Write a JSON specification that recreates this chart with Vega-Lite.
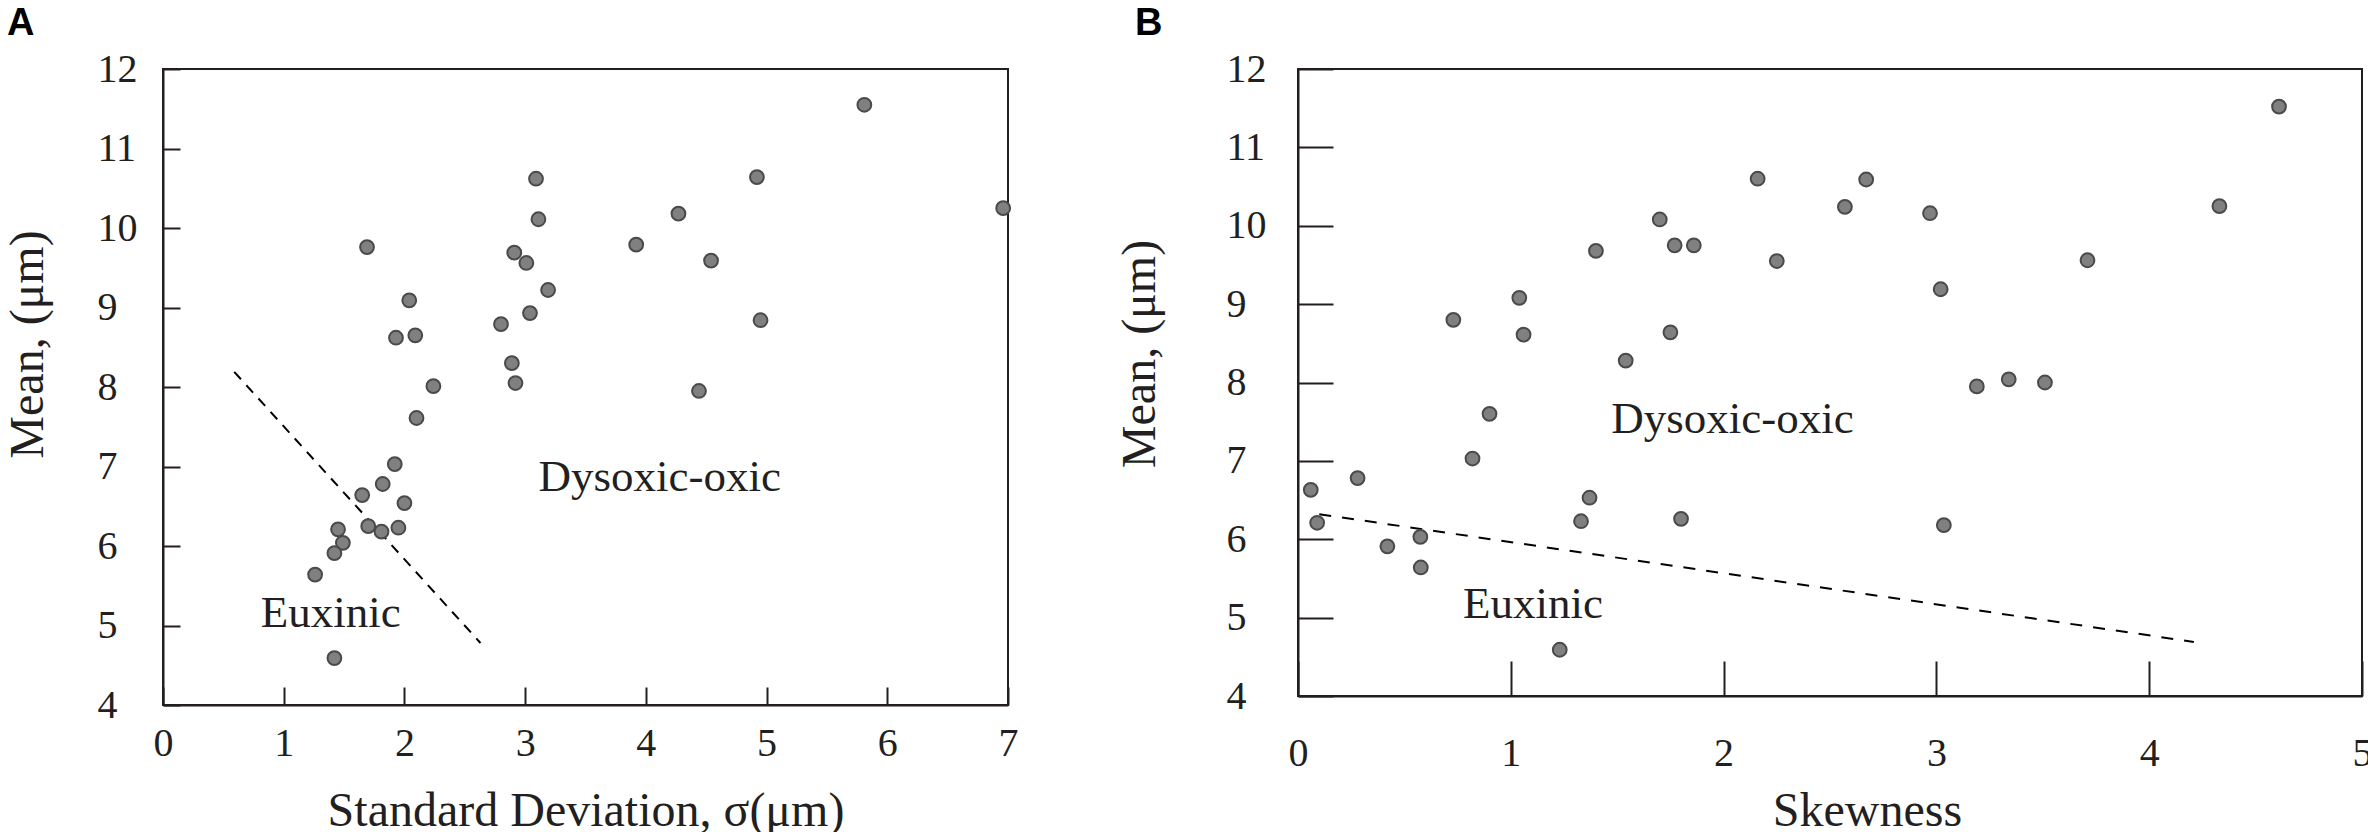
{
  "$schema": "https://vega.github.io/schema/vega-lite/v6.json",
  "background": "white",
  "padding": {"left": 2, "top": 4, "right": 0, "bottom": 0},
  "config": {
    "font": "Liberation Serif",
    "view": {"stroke": "#231f20", "strokeWidth": 2},
    "axis": {
      "grid": false,
      "domainColor": "#231f20",
      "domainWidth": 2,
      "tickColor": "#231f20",
      "tickWidth": 2,
      "labelFont": "Liberation Serif",
      "labelFontSize": 40,
      "labelColor": "#231f20",
      "labelFlush": false,
      "labelOverlap": false,
      "labelBound": false,
      "format": "d",
      "titleFont": "Liberation Serif",
      "titleFontSize": 48,
      "titleFontWeight": "normal",
      "titleColor": "#231f20",
      "titleBaseline": "alphabetic",
      "titleAlign": "center"
    },
    "title": {"font": "Liberation Sans", "fontWeight": "bold", "fontSize": 38, "color": "#000000", "anchor": "start", "frame": "bounds", "baseline": "alphabetic", "offset": 6}
  },
  "datasets": {
    "sdMean": [
      {"sd": 1.69, "mean": 9.76}, {"sd": 2.04, "mean": 9.09}, {"sd": 1.93, "mean": 8.62},
      {"sd": 2.09, "mean": 8.65}, {"sd": 2.24, "mean": 8.01}, {"sd": 2.10, "mean": 7.61},
      {"sd": 1.92, "mean": 7.03}, {"sd": 1.82, "mean": 6.78}, {"sd": 1.65, "mean": 6.64},
      {"sd": 2.00, "mean": 6.54}, {"sd": 3.09, "mean": 10.62}, {"sd": 3.11, "mean": 10.11},
      {"sd": 2.91, "mean": 9.69}, {"sd": 3.01, "mean": 9.56}, {"sd": 3.19, "mean": 9.22},
      {"sd": 3.04, "mean": 8.93}, {"sd": 2.80, "mean": 8.79}, {"sd": 2.89, "mean": 8.30},
      {"sd": 2.92, "mean": 8.05}, {"sd": 3.92, "mean": 9.79}, {"sd": 4.27, "mean": 10.18},
      {"sd": 4.54, "mean": 9.59}, {"sd": 4.92, "mean": 10.64}, {"sd": 4.95, "mean": 8.84},
      {"sd": 4.44, "mean": 7.95}, {"sd": 5.81, "mean": 11.55}, {"sd": 6.96, "mean": 10.25},
      {"sd": 1.45, "mean": 6.21}, {"sd": 1.70, "mean": 6.25}, {"sd": 1.81, "mean": 6.18},
      {"sd": 1.95, "mean": 6.23}, {"sd": 1.49, "mean": 6.04}, {"sd": 1.42, "mean": 5.91},
      {"sd": 1.26, "mean": 5.64}, {"sd": 1.42, "mean": 4.59}
    ],
    "skewMean": [
      {"skew": 0.06, "mean": 6.63}, {"skew": 0.09, "mean": 6.21}, {"skew": 0.28, "mean": 6.78},
      {"skew": 0.42, "mean": 5.91}, {"skew": 0.575, "mean": 6.03}, {"skew": 0.577, "mean": 5.64},
      {"skew": 0.73, "mean": 8.80}, {"skew": 0.90, "mean": 7.60}, {"skew": 0.82, "mean": 7.03},
      {"skew": 1.04, "mean": 9.08}, {"skew": 1.06, "mean": 8.61}, {"skew": 1.23, "mean": 4.59},
      {"skew": 1.37, "mean": 6.53}, {"skew": 1.33, "mean": 6.23}, {"skew": 1.40, "mean": 9.68},
      {"skew": 1.54, "mean": 8.28}, {"skew": 1.70, "mean": 10.08}, {"skew": 1.77, "mean": 9.75},
      {"skew": 1.86, "mean": 9.75}, {"skew": 1.75, "mean": 8.64}, {"skew": 1.80, "mean": 6.26},
      {"skew": 2.16, "mean": 10.60}, {"skew": 2.25, "mean": 9.55}, {"skew": 2.57, "mean": 10.24},
      {"skew": 2.67, "mean": 10.59}, {"skew": 2.97, "mean": 10.16}, {"skew": 3.02, "mean": 9.19},
      {"skew": 3.71, "mean": 9.56}, {"skew": 4.33, "mean": 10.25}, {"skew": 4.61, "mean": 11.52},
      {"skew": 3.19, "mean": 7.95}, {"skew": 3.34, "mean": 8.04}, {"skew": 3.51, "mean": 8.00},
      {"skew": 3.035, "mean": 6.18}
    ]
  },
  "spacing": 95,
  "hconcat": [
    {
      "width": 845,
      "height": 636,
      "title": {"text": "A", "dx": 3},
      "layer": [
        {
          "data": {"values": [{"x": 0.59, "y": 8.19}, {"x": 2.63, "y": 4.78}]},
          "mark": {"type": "line", "color": "#000000", "strokeWidth": 2, "strokeDash": [10, 8]},
          "encoding": {
            "x": {"field": "x", "type": "quantitative"},
            "y": {"field": "y", "type": "quantitative"}
          }
        },
        {
          "data": {"name": "sdMean"},
          "mark": {"type": "circle", "size": 190, "opacity": 1, "fill": "#808080", "stroke": "#4a4a4a", "strokeWidth": 2},
          "encoding": {
            "x": {
              "field": "sd", "type": "quantitative",
              "scale": {"domain": [0, 7], "nice": false, "zero": false},
              "axis": {"title": "Standard Deviation, σ(μm)", "values": [0, 1, 2, 3, 4, 5, 6, 7], "format": "d", "labelFont": "Liberation Serif", "tickSize": -18, "labelPadding": 36, "titleX": 422.5, "titleY": 120}
            },
            "y": {
              "field": "mean", "type": "quantitative",
              "scale": {"domain": [4, 12], "nice": false, "zero": false},
              "axis": {"title": "Mean, (μm)", "values": [4, 5, 6, 7, 8, 9, 10, 11, 12], "format": "d", "labelFont": "Liberation Serif", "tickSize": -17, "labelPadding": 83, "labelAlign": "left", "titleX": -121, "titleY": 275}
            }
          }
        },
        {
          "data": {"values": [{"x": 0.81, "y": 4.98, "label": "Euxinic"}, {"x": 3.11, "y": 6.69, "label": "Dysoxic-oxic"}]},
          "mark": {"type": "text", "align": "left", "baseline": "alphabetic", "font": "Liberation Serif", "fontSize": 45, "color": "#231f20"},
          "encoding": {
            "x": {"field": "x", "type": "quantitative"},
            "y": {"field": "y", "type": "quantitative"},
            "text": {"field": "label"}
          }
        }
      ]
    },
    {
      "width": 1064,
      "height": 627,
      "title": {"text": "B", "dx": 19},
      "layer": [
        {
          "data": {"values": [{"x": 0.1, "y": 6.32}, {"x": 4.21, "y": 4.69}]},
          "mark": {"type": "line", "color": "#000000", "strokeWidth": 2, "strokeDash": [12, 11]},
          "encoding": {
            "x": {"field": "x", "type": "quantitative"},
            "y": {"field": "y", "type": "quantitative"}
          }
        },
        {
          "data": {"name": "skewMean"},
          "mark": {"type": "circle", "size": 190, "opacity": 1, "fill": "#808080", "stroke": "#4a4a4a", "strokeWidth": 2},
          "encoding": {
            "x": {
              "field": "skew", "type": "quantitative",
              "scale": {"domain": [0, 5], "nice": false, "zero": false},
              "axis": {"title": "Skewness", "values": [0, 1, 2, 3, 4, 5], "format": "d", "labelFont": "Liberation Serif", "tickSize": -35, "labelPadding": 72, "titleX": 569, "titleY": 129}
            },
            "y": {
              "field": "mean", "type": "quantitative",
              "scale": {"domain": [4, 12], "nice": false, "zero": false},
              "axis": {"title": "Mean, (μm)", "values": [4, 5, 6, 7, 8, 9, 10, 11, 12], "format": "d", "labelFont": "Liberation Serif", "tickSize": -35, "labelPadding": 107, "labelAlign": "left", "titleX": -144, "titleY": 284.5}
            }
          }
        },
        {
          "data": {"values": [{"x": 0.775, "y": 5.0, "label": "Euxinic"}, {"x": 1.472, "y": 7.35, "label": "Dysoxic-oxic"}]},
          "mark": {"type": "text", "align": "left", "baseline": "alphabetic", "font": "Liberation Serif", "fontSize": 45, "color": "#231f20"},
          "encoding": {
            "x": {"field": "x", "type": "quantitative"},
            "y": {"field": "y", "type": "quantitative"},
            "text": {"field": "label"}
          }
        }
      ]
    }
  ]
}
